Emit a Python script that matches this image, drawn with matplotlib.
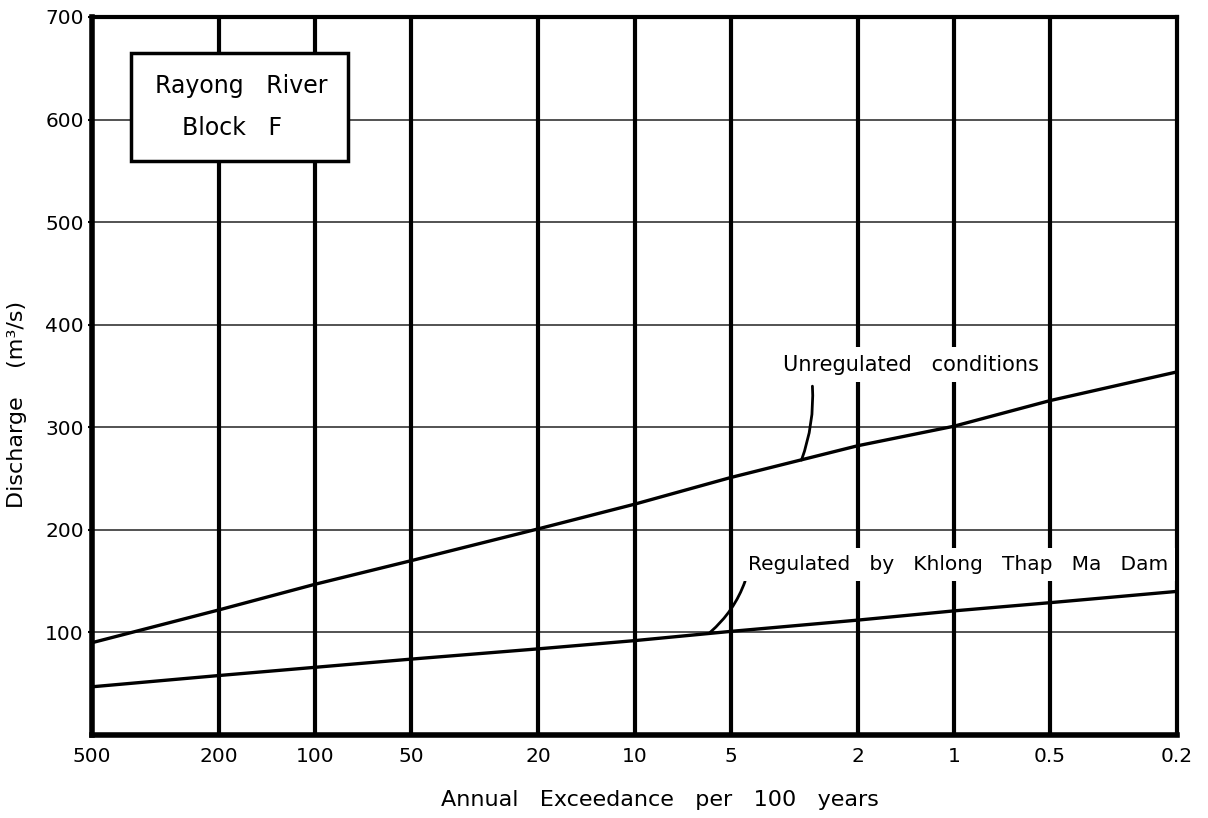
import matplotlib
matplotlib.use("Agg")
import matplotlib.pyplot as plt
from matplotlib.ticker import FixedLocator, NullLocator
from matplotlib.patches import Rectangle

exceedance = [500, 200, 100, 50, 20, 10, 5, 2, 1, 0.5, 0.2]
tick_labels = ["500", "200", "100", "50", "20", "10", "5", "2", "1", "0.5", "0.2"]
unregulated = [90, 122, 147, 170, 201, 225, 251, 282, 301, 326, 354]
regulated = [47, 58, 66, 74, 84, 92, 101, 112, 121, 129, 140]
y_ticks = [100, 200, 300, 400, 500, 600, 700]

plt.rcParams['font.family'] = ['DejaVu Sans']

fig = plt.figure(figsize=(12.08, 8.18), dpi=100)
ax = fig.add_axes([92/1208, 1-735/818, (1177-92)/1208, (735-17)/818])

ax.set_xscale('log')
ax.set_xlim(500, 0.2)
ax.set_ylim(0, 700)

# grid
for y in y_ticks[:-1]:
    ax.axhline(y, color='#444444', lw=1.3, zorder=1)
for x in exceedance[1:-1]:
    ax.axvline(x, color='black', lw=3.0, zorder=1)

ax.plot(exceedance, unregulated, color='black', lw=2.4, zorder=3)
ax.plot(exceedance, regulated, color='black', lw=2.4, zorder=3)

ax.xaxis.set_major_locator(FixedLocator(exceedance))
ax.xaxis.set_minor_locator(NullLocator())
ax.set_xticklabels(tick_labels)
ax.set_yticks(y_ticks)
ax.set_yticklabels([str(v) for v in y_ticks])
ax.tick_params(axis='both', labelsize=14.5, length=3, width=1.5, pad=3)
ax.tick_params(axis='x', length=0, pad=9)

for s in ['left', 'bottom']:
    ax.spines[s].set_linewidth(4)
for s in ['top', 'right']:
    ax.spines[s].set_linewidth(3)

ax.set_xlabel("Annual   Exceedance   per   100   years", fontsize=16)
ax.xaxis.set_label_coords(0.5235, -0.077)
ax.set_ylabel("Discharge    (m³/s)", fontsize=16)
ax.yaxis.set_label_coords(-0.060, 0.46)

# title box
ax.add_patch(Rectangle((0.036, 0.7994), 0.2, 0.1505, transform=ax.transAxes,
                       fc='white', ec='black', lw=2.5, zorder=5))
ax.text(0.1373, 0.9039, "Rayong   River", transform=ax.transAxes,
        ha='center', va='center', fontsize=17, zorder=6)
ax.text(0.129, 0.8454, "Block   F", transform=ax.transAxes,
        ha='center', va='center', fontsize=17, zorder=6)

# annotations
ax.annotate("Unregulated   conditions", xy=(3.0, 268), xytext=(1.36, 361),
            ha='center', va='center', fontsize=15,
            bbox=dict(boxstyle='square,pad=0.35', fc='white', ec='none'),
            arrowprops=dict(arrowstyle='-', color='black', lw=2.0,
                            connectionstyle='arc3,rad=-0.12',
                            shrinkA=3, shrinkB=0, relpos=(0.11, 0.0)), zorder=4)
ax.annotate("Regulated   by   Khlong   Thap   Ma   Dam", xy=(5.8, 100), xytext=(0.97, 166),
            ha='center', va='center', fontsize=14.5,
            bbox=dict(boxstyle='square,pad=0.35', fc='white', ec='none'),
            arrowprops=dict(arrowstyle='-', color='black', lw=2.0,
                            connectionstyle='arc3,rad=-0.15',
                            shrinkA=0, shrinkB=0,
                            relpos=(0.0, 0.1)), zorder=4)

fig.savefig("out.png", dpi=100, facecolor='white')
